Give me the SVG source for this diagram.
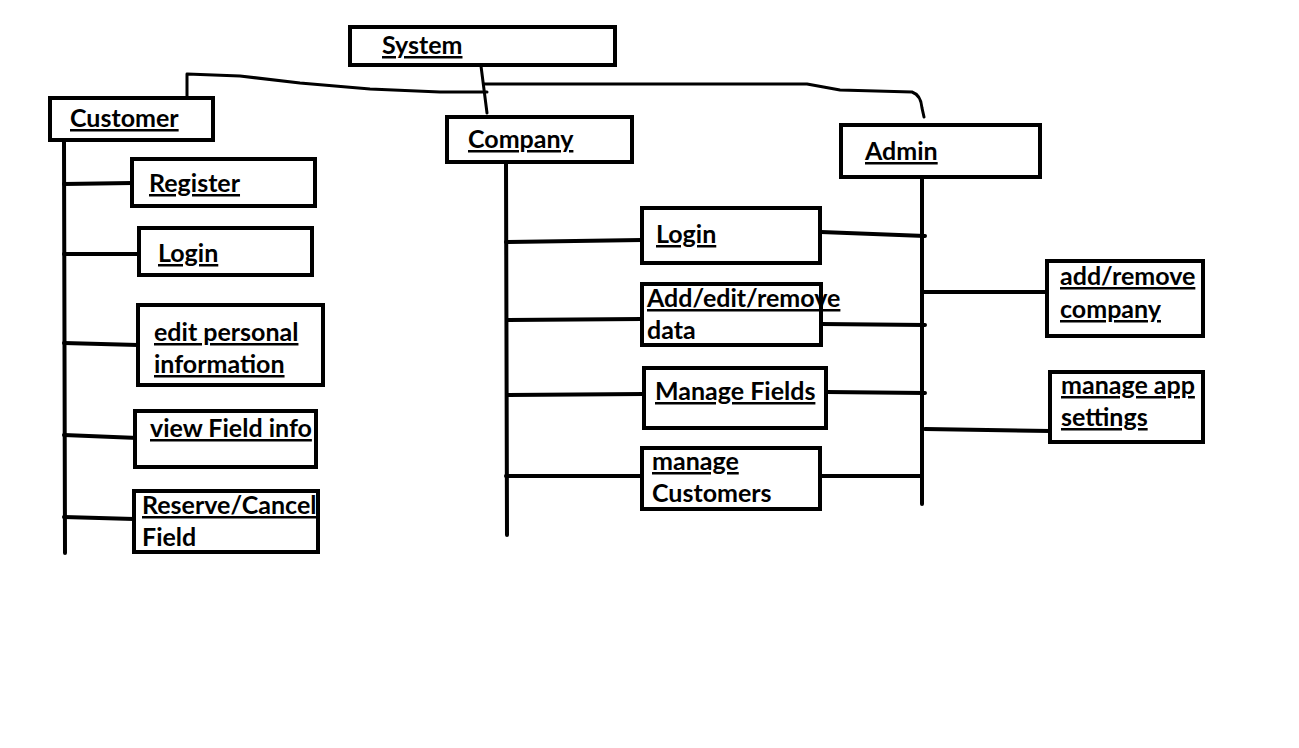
<svg xmlns="http://www.w3.org/2000/svg" width="1299" height="748" viewBox="0 0 1299 748">
<style>
.box{fill:#fff;stroke:#000;stroke-width:4}
.ln{fill:none;stroke:#000;stroke-width:4;stroke-linecap:round;stroke-linejoin:round}
.thin{fill:none;stroke:#000;stroke-width:3;stroke-linecap:round;stroke-linejoin:round}
text{font-family:Lato,"Open Sans","Liberation Sans",sans-serif;font-weight:bold;font-size:25px;fill:#000}
.u{text-decoration:underline}
</style>
<rect width="1299" height="748" fill="#fff"/>
<g id="connectors">
<path class="thin" d="M481 66 L487 113"/>
<path class="thin" d="M487 92 L440 92 L370 89 L300 83 L240 76 L187 74 L187 97"/>
<path class="thin" d="M484 84 L807 84 L840 90 L912 92 Q921 95 922 108 L924 117"/>
<path class="ln" d="M64 141 L65 553"/>
<path class="ln" d="M64 184 L132 183"/>
<path class="ln" d="M64 254 L139 254"/>
<path class="ln" d="M64 343 L138 345"/>
<path class="ln" d="M64 435 L138 438"/>
<path class="ln" d="M64 517 L134 519"/>
<path class="ln" d="M506 163 L507 535"/>
<path class="ln" d="M506 242 L642 240"/>
<path class="ln" d="M507 320 L642 319"/>
<path class="ln" d="M507 395 L644 394"/>
<path class="ln" d="M506 476 L642 476"/>
<path class="ln" d="M922 178 L922 504"/>
<path class="ln" d="M821 232 L925 236"/>
<path class="ln" d="M821 324 L925 325"/>
<path class="ln" d="M826 392 L925 393"/>
<path class="ln" d="M820 476 L922 476"/>
<path class="ln" d="M922 292 L1047 292"/>
<path class="ln" d="M925 429 L1050 431"/>
</g>
<g id="system"><rect class="box" x="350" y="27" width="265" height="38"/><text class="u" x="382" y="54">System</text></g>
<g id="customer"><rect class="box" x="50" y="98" width="163" height="42"/><text class="u" x="70" y="127">Customer</text></g>
<g id="company"><rect class="box" x="447" y="117" width="185" height="45"/><text class="u" x="468" y="148">Company</text></g>
<g id="admin"><rect class="box" x="841" y="125" width="199" height="52"/><text class="u" x="865" y="160">Admin</text></g>
<g id="c-register"><rect class="box" x="132" y="159" width="183" height="47"/><text class="u" x="149" y="192">Register</text></g>
<g id="c-login"><rect class="box" x="139" y="228" width="173" height="47"/><text class="u" x="158" y="262">Login</text></g>
<g id="c-edit"><rect class="box" x="138" y="305" width="185" height="80"/><text class="u" x="154" y="341">edit personal</text><text class="u" x="154" y="373">information</text></g>
<g id="c-view"><rect class="box" x="135" y="411" width="181" height="56"/><text class="u" x="150" y="437">view Field info</text></g>
<g id="c-reserve"><rect class="box" x="134" y="491" width="184" height="61"/><text class="u" x="142" y="514">Reserve/Cancel</text><text x="142" y="546">Field</text></g>
<g id="co-login"><rect class="box" x="642" y="208" width="178" height="55"/><text class="u" x="656" y="243">Login</text></g>
<g id="co-data"><rect class="box" x="642" y="284" width="179" height="61"/><text class="u" x="647" y="307">Add/edit/remove</text><text x="647" y="339">data</text></g>
<g id="co-fields"><rect class="box" x="644" y="368" width="182" height="60"/><text class="u" x="655" y="400">Manage Fields</text></g>
<g id="co-customers"><rect class="box" x="642" y="448" width="178" height="61"/><text class="u" x="652" y="470">manage</text><text x="652" y="502">Customers</text></g>
<g id="a-company"><rect class="box" x="1047" y="261" width="156" height="75"/><text class="u" x="1060" y="285">add/remove</text><text class="u" x="1060" y="318">company</text></g>
<g id="a-settings"><rect class="box" x="1050" y="372" width="153" height="70"/><text class="u" x="1061" y="394">manage app</text><text class="u" x="1061" y="426">settings</text></g>
</svg>
